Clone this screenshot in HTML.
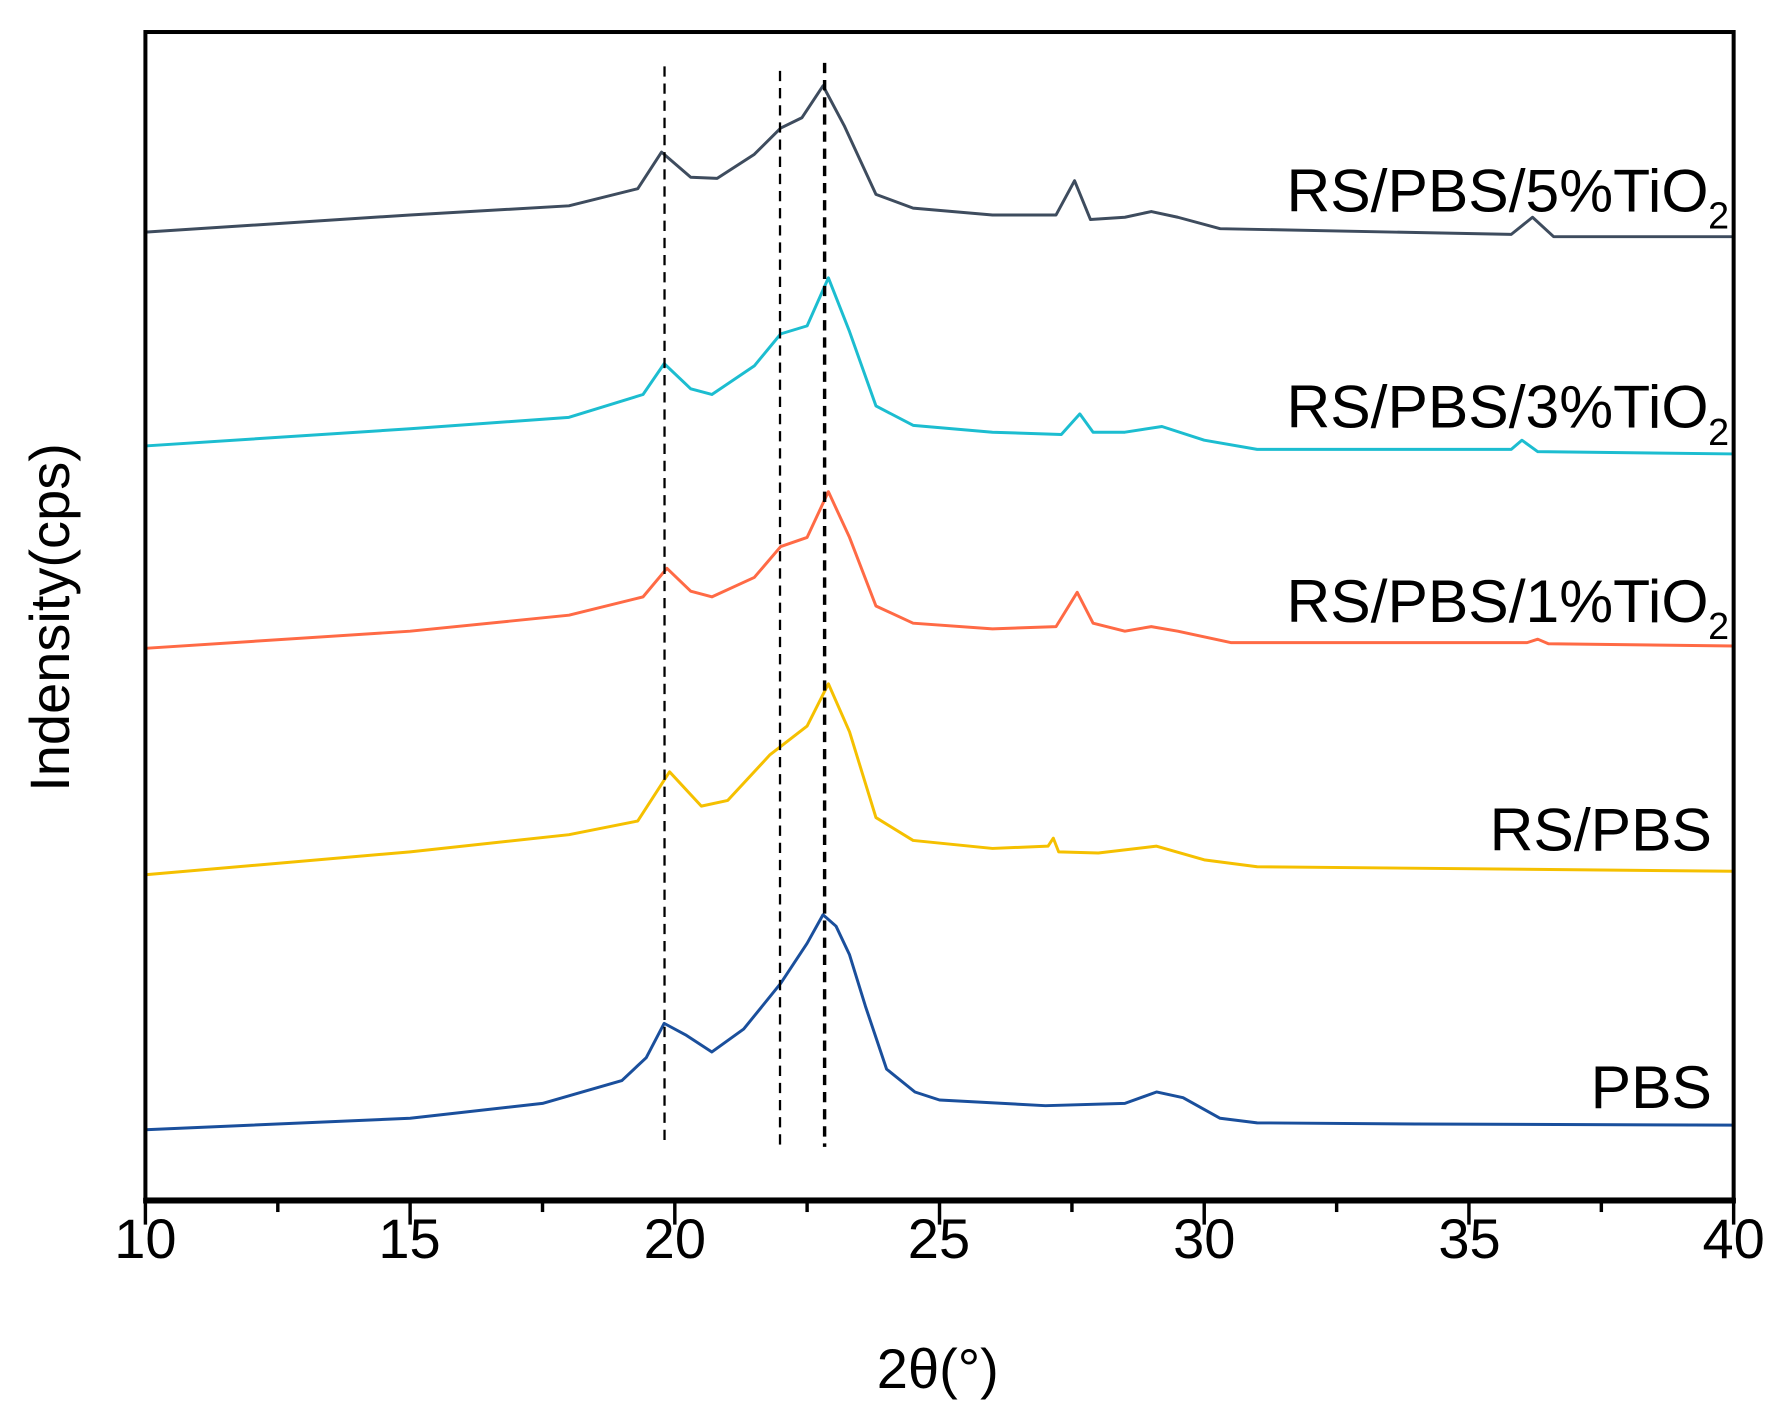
<!DOCTYPE html>
<html><head><meta charset="utf-8"><style>html,body{margin:0;padding:0;background:#fff}svg{display:block}</style></head>
<body>
<svg xmlns="http://www.w3.org/2000/svg" width="1791" height="1419" viewBox="0 0 1566 1241" font-family="Liberation Sans, Arial, sans-serif">
<rect width="1566" height="1241" fill="#fff"/>
<g fill="none" stroke-width="2.6" stroke-linejoin="round">
<polyline stroke="#1a4f9c" points="127,988 358.5,978 474.3,965 543.7,945 565,925 580.7,895 599.3,905 622.4,920 650.2,900 682.6,860 705.7,825 719.6,800 731,810 742.8,835 756.7,880 775.2,935 800,955 821.5,962 914.1,967 983.6,965 1011.3,955 1034.5,960 1066.9,978 1099.3,982 1238.2,983 1516,984"/>
<polyline stroke="#f5c000" points="127,765 358.5,745 497.4,730 557.6,718 585.4,675 613.2,705 636.3,700 673.3,660 705.7,635 724.3,598 742.8,640 765.9,715 798.4,735 867.8,742 916.4,740 921,733 925.7,745 960.4,746 1011.3,740 1053,752 1099.3,758 1516,762"/>
<polyline stroke="#ff6a45" points="127,567 358.5,552 497.4,538 562.2,522 583.1,497 603.9,517 622.4,522 659.5,505 682.6,478 705.7,470 724.3,430 742.8,470 765.9,530 798.4,545 867.8,550 923.4,548 941.9,518 955.8,545 983.6,552 1006.7,548 1029.9,552 1076.2,562 1335.4,562 1344.7,559 1354,563 1516,565"/>
<polyline stroke="#1cbdd0" points="127,390 358.5,375 497.4,365 562.2,345 580.7,318 603.9,340 622.4,345 659.5,320 682.6,292 705.7,285 724.3,243 742.8,290 765.9,355 798.4,372 867.8,378 928,380 944.2,362 955.8,378 983.6,378 1016,373 1053,385 1099.3,393 1321.5,393 1330.8,385 1344.7,395 1516,397"/>
<polyline stroke="#3e4c5e" points="127,203 358.5,188 497.4,180 557.6,165 578.4,133 603.9,155 627,156 659.5,135 682.6,112 701.1,103 719.6,75 738.2,110 765.9,170 798.4,182 867.8,188 923.4,188 939.6,158 953.5,192 983.6,190 1006.7,185 1029.9,190 1066.9,200 1321.5,205 1340.1,190 1358.6,207 1516,207"/>
</g>
<g stroke="#000" stroke-width="2" stroke-dasharray="9,6">
<line x1="581" y1="58" x2="581" y2="1003"/>
<line x1="682" y1="62" x2="682" y2="1003"/>
<line x1="721" y1="55" x2="721" y2="1003" stroke-width="3"/>
</g>
<rect x="127" y="28" width="1389" height="1021" fill="none" stroke="#000" stroke-width="3.5"/>
<line x1="125" y1="1050" x2="1518" y2="1050" stroke="#000" stroke-width="5"/>
<g stroke="#000" stroke-width="3">
<line x1="127" y1="1050" x2="127" y2="1071"/><line x1="242.8" y1="1050" x2="242.8" y2="1060"/>
<line x1="358.5" y1="1050" x2="358.5" y2="1071"/><line x1="474.3" y1="1050" x2="474.3" y2="1060"/>
<line x1="590" y1="1050" x2="590" y2="1071"/><line x1="705.7" y1="1050" x2="705.7" y2="1060"/>
<line x1="821.5" y1="1050" x2="821.5" y2="1071"/><line x1="937.3" y1="1050" x2="937.3" y2="1060"/>
<line x1="1053" y1="1050" x2="1053" y2="1071"/><line x1="1168.8" y1="1050" x2="1168.8" y2="1060"/>
<line x1="1284.5" y1="1050" x2="1284.5" y2="1071"/><line x1="1400.3" y1="1050" x2="1400.3" y2="1060"/>
<line x1="1516" y1="1050" x2="1516" y2="1071"/>
</g>
<g font-size="49" text-anchor="middle" fill="#000">
<text x="127" y="1100">10</text><text x="358" y="1100">15</text><text x="590" y="1100">20</text>
<text x="821" y="1100">25</text><text x="1053" y="1100">30</text><text x="1285" y="1100">35</text><text x="1516" y="1100">40</text>
<text x="820" y="1214">2θ(°)</text>
<text transform="translate(60,540) rotate(-90)">Indensity(cps)</text>
</g>
<g font-size="53" text-anchor="end" fill="#000">
<text x="1494" y="185">RS/PBS/5%TiO</text><text x="1512" y="200" font-size="33">2</text>
<text x="1494" y="374">RS/PBS/3%TiO</text><text x="1512" y="389" font-size="33">2</text>
<text x="1494" y="544">RS/PBS/1%TiO</text><text x="1512" y="559" font-size="33">2</text>
<text x="1497" y="744">RS/PBS</text>
<text x="1497" y="969">PBS</text>
</g>
</svg>
</body></html>
